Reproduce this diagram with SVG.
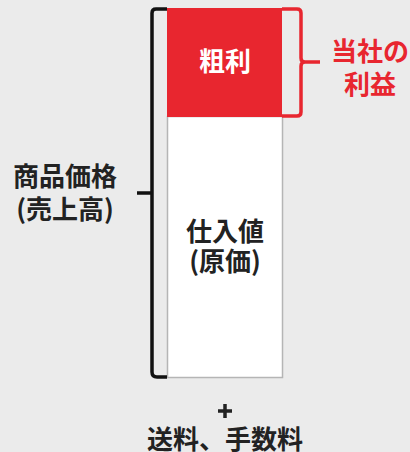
<svg xmlns="http://www.w3.org/2000/svg" width="410" height="452" viewBox="0 0 410 452">
<style>
text{font-family:"Noto Sans CJK JP","Noto Sans",sans-serif;font-weight:bold;font-size:26px;text-anchor:middle}
.dk{fill:#222}
.wh{fill:#fff}
.rd{fill:#e8262f}
.br{fill:none;stroke-width:3.5;stroke-linejoin:round}
</style>
<rect width="410" height="452" fill="#ebebeb"/>
<g id="cost">
<rect x="167.5" y="116.5" width="115" height="261" fill="#fff" stroke="#b5b5b5" stroke-width="1.5"/>
<text class="dk" x="225" y="241">仕入値</text>
<text class="dk" x="225" y="271">(原価)</text>
</g>
<g id="profit">
<rect x="167" y="8" width="115" height="109" fill="#e8262f"/>
<text class="wh" x="225" y="71">粗利</text>
</g>
<g id="connectors">
<path class="br" stroke="#111" d="M167 9 H156 Q152 9 152 13 V372 Q152 377 157 377 H167 M137 193 H152"/>
<path class="br" stroke="#e8262f" d="M282 9 H297 Q301 9 301 13 V58 Q301 62 305 62 H320 M305 62 Q301 62 301 66 V112 Q301 116 297 116 H282"/>
</g>
<g id="price">
<text class="dk" x="65" y="186">商品価格</text>
<text class="dk" x="65" y="219">(売上高)</text>
</g>
<g id="company-profit">
<text class="rd" x="370" y="61">当社の</text>
<text class="rd" x="370" y="94">利益</text>
</g>
<g id="fees">
<path d="M225 404 V418 M218 411 H232" stroke="#222" stroke-width="3.5" fill="none"/>
<text class="dk" x="225" y="449">送料、手数料</text>
</g>
</svg>
